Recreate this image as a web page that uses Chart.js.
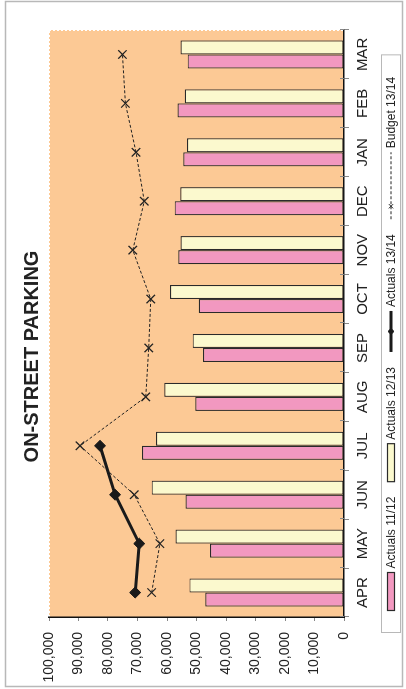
<!DOCTYPE html>
<html>
<head>
<meta charset="utf-8">
<title>On-Street Parking</title>
<script src="https://cdn.jsdelivr.net/npm/chart.js@4.4.1/dist/chart.umd.min.js"></script>
<style>
  html, body { margin: 0; padding: 0; background: #fff; overflow: hidden; }
  /* the chart is laid out landscape and turned a quarter turn to stand upright */
  #wrap {
    position: absolute; left: 0; top: 0;
    width: 689px; height: 406px;
    transform-origin: 0 0;
    transform: translateY(689px) rotate(-90deg);
  }
</style>
</head>
<body>
<div id="wrap"><canvas id="parkingChart" width="689" height="406"></canvas></div>
<script>
const months = ['APR', 'MAY', 'JUN', 'JUL', 'AUG', 'SEP', 'OCT', 'NOV', 'DEC', 'JAN', 'FEB', 'MAR'];
const actuals1112 = [47000, 45400, 53700, 68500, 50400, 47800, 49200, 56200, 57400, 54500, 56400, 53000];
const actuals1213 = [52400, 57100, 65200, 63700, 60900, 51300, 59000, 55400, 55500, 53200, 54000, 55400];
const actuals1314 = [70800, 69400, 77600, 82700, null, null, null, null, null, null, null, null];
const budget1314 = [65200, 62400, 71100, 89500, 67200, 66200, 65500, 71600, 67700, 70500, 74100, 75100];
const valueTicks = [0, 10000, 20000, 30000, 40000, 50000, 60000, 70000, 80000, 90000, 100000];

const FONT = 'Liberation Sans, Arial, sans-serif';
const PEACH = '#fcc995';
const PINK = '#f298c0';
const CREAM = '#fbf9ce';
const INK = '#222';

// plot background, outer frame and the boxed legend under the axis
const framePlugin = {
  id: 'framePlugin',
  beforeDraw(chart) {
    const { ctx, chartArea: a } = chart;
    ctx.save();
    ctx.fillStyle = '#fff';
    ctx.fillRect(0, 0, chart.width, chart.height);
    ctx.fillStyle = PEACH;
    ctx.fillRect(a.left, a.top, a.right - a.left, a.bottom - a.top);
    ctx.strokeStyle = '#fff';
    ctx.lineWidth = 1;
    ctx.setLineDash([2, 2]);
    ctx.beginPath();
    ctx.moveTo(a.left, a.top + 0.5);
    ctx.lineTo(a.right, a.top + 0.5);
    ctx.moveTo(a.right - 0.5, a.top);
    ctx.lineTo(a.right - 0.5, a.bottom);
    ctx.stroke();
    ctx.restore();
  },
  afterDraw(chart) {
    const { ctx, chartArea: a } = chart;
    const H = Chart.helpers;
    ctx.save();

    // category ticks also reach a little way into the plot
    const xs = chart.scales.x;
    const band = (xs.right - xs.left) / months.length;
    ctx.strokeStyle = '#888';
    ctx.lineWidth = 1;
    ctx.beginPath();
    for (let i = 0; i <= months.length; i++) {
      const px = Math.round(xs.left + i * band) + 0.5;
      ctx.moveTo(px, a.bottom - 4);
      ctx.lineTo(px, a.bottom);
    }
    ctx.stroke();

    ctx.strokeStyle = '#b8b8b8';
    ctx.lineWidth = 1.5;
    ctx.strokeRect(2.5, 5.5, chart.width - 4, chart.height - 9);

    ctx.font = '12px ' + FONT;
    const items = chart.data.datasets.map(ds => {
      const swatch = ds.type === 'line' ? (ds.borderDash ? 67 : 41) : 38;
      return { ds, swatch, w: swatch + 4 + ctx.measureText(ds.label).width };
    });
    const gap = 15, pad = 22;
    const content = items.reduce((s, it) => s + it.w, 0) + gap * (items.length - 1);
    const boxW = content + pad * 2;
    const boxX = Math.round((chart.width - boxW) / 2) + 0.5;
    const boxY = 381.5, boxH = 19;
    const cy = boxY + boxH / 2;

    ctx.strokeStyle = '#b8b8b8';
    ctx.lineWidth = 1;
    ctx.strokeRect(boxX, boxY, boxW, boxH);

    let x = boxX + pad;
    items.forEach(({ ds, swatch, w }) => {
      if (ds.type === 'line') {
        ctx.strokeStyle = ds.borderColor;
        ctx.lineWidth = ds.borderDash ? 1 : 3;
        ctx.setLineDash(ds.borderDash || []);
        ctx.beginPath();
        ctx.moveTo(x, cy);
        ctx.lineTo(x + swatch, cy);
        ctx.stroke();
        ctx.setLineDash([]);
        ctx.fillStyle = ds.pointBackgroundColor || ds.borderColor;
        ctx.strokeStyle = ds.borderColor;
        ctx.lineWidth = 1;
        const px = ds.borderDash ? x + 13 : x + swatch / 2;
        H.drawPoint(ctx, { pointStyle: ds.pointStyle, radius: 3, borderWidth: 1, rotation: 0 }, px, cy);
      } else {
        ctx.fillStyle = ds.backgroundColor;
        ctx.strokeStyle = ds.borderColor;
        ctx.lineWidth = 1.2;
        ctx.fillRect(x, cy - 3.5, swatch, 7);
        ctx.strokeRect(x, cy - 3.5, swatch, 7);
      }
      ctx.fillStyle = INK;
      ctx.textBaseline = 'middle';
      ctx.textAlign = 'left';
      ctx.fillText(ds.label, x + swatch + 4, cy + 0.5);
      x += w + gap;
    });
    ctx.restore();
  }
};

new Chart(document.getElementById('parkingChart').getContext('2d'), {
  type: 'bar',
  data: {
    labels: months,
    datasets: [
      {
        label: 'Actuals 11/12',
        data: actuals1112,
        backgroundColor: PINK,
        borderColor: '#2a2a2a',
        borderWidth: 1.2,
        borderSkipped: false,
        order: 1
      },
      {
        label: 'Actuals 12/13',
        data: actuals1213,
        backgroundColor: CREAM,
        borderColor: '#2a2a2a',
        borderWidth: 1.2,
        borderSkipped: false,
        order: 1
      },
      {
        type: 'line',
        label: 'Actuals 13/14',
        data: actuals1314,
        borderColor: '#1a1a1a',
        borderWidth: 3,
        pointStyle: 'rectRot',
        pointRadius: 5.5,
        pointBorderWidth: 1,
        pointBackgroundColor: '#1a1a1a',
        pointBorderColor: '#1a1a1a',
        spanGaps: false,
        order: 0
      },
      {
        type: 'line',
        label: 'Budget 13/14',
        data: budget1314,
        borderColor: '#222',
        borderWidth: 1,
        borderDash: [3, 2],
        pointStyle: 'crossRot',
        pointRadius: 6,
        pointBorderWidth: 1.2,
        pointBorderColor: '#222',
        order: 0
      }
    ]
  },
  options: {
    responsive: false,
    animation: false,
    layout: { padding: { top: 10, left: 6, right: 30, bottom: 34 } },
    datasets: {
      bar: { categoryPercentage: 0.575, barPercentage: 1.0 }
    },
    plugins: {
      legend: { display: false },
      tooltip: { enabled: false },
      title: {
        display: true,
        text: 'ON-STREET PARKING',
        color: INK,
        font: { family: FONT, size: 20, weight: 'bold' },
        padding: { top: 10, bottom: 5 }
      }
    },
    scales: {
      x: {
        offset: true,
        afterFit: scale => { scale.height = 28; },
        grid: { display: true, offset: true, drawOnChartArea: false, drawTicks: true, tickLength: 5, color: '#888' },
        border: { display: true, color: '#111', width: 1.5 },
        ticks: { color: INK, font: { family: FONT, size: 15 }, padding: 5, maxRotation: 0, autoSkip: false }
      },
      y: {
        min: 0,
        max: 100000,
        afterBuildTicks: axis => { axis.ticks = valueTicks.map(v => ({ value: v })); },
        afterFit: scale => { scale.width = 66; },
        grid: { display: true, drawOnChartArea: false, drawTicks: true, tickLength: 4, color: '#888' },
        border: { display: true, color: '#111', width: 1.5 },
        ticks: {
          color: INK,
          font: { family: FONT, size: 14 },
          padding: 11,
          callback: v => v.toLocaleString('en-US')
        }
      }
    }
  },
  plugins: [framePlugin]
});
</script>
</body>
</html>
